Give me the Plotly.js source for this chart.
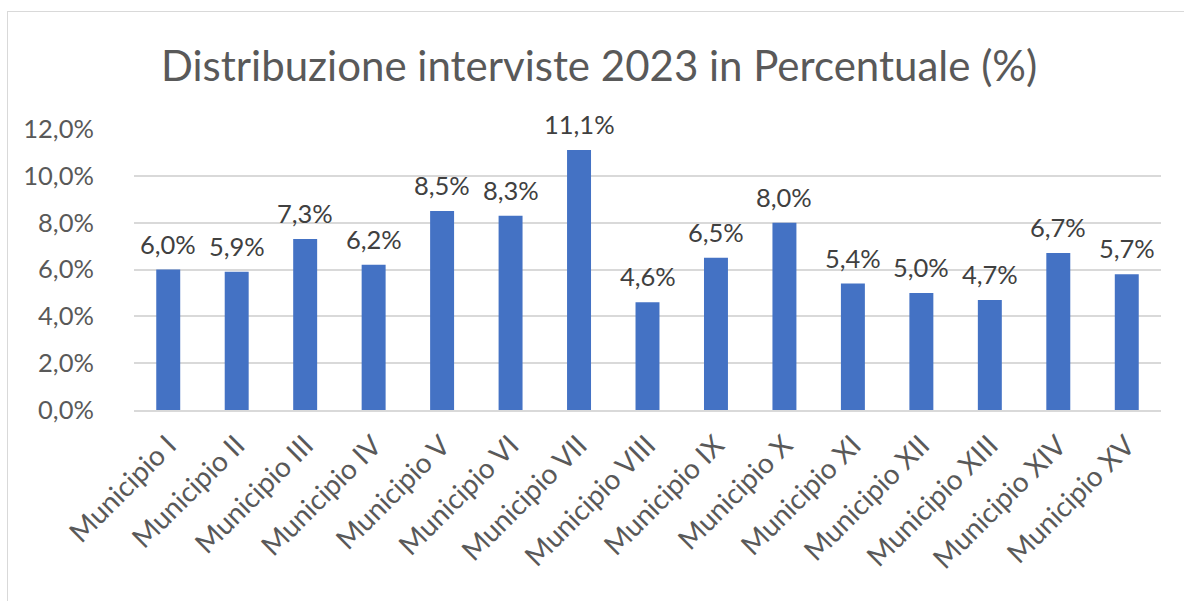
<!DOCTYPE html>
<html>
<head>
<meta charset="utf-8">
<script src="https://cdn.plot.ly/plotly-3.0.1.min.js"></script>
<style>
html,body{margin:0;padding:0;background:#fff;overflow:hidden;width:1184px;height:601px;}
#frame{position:absolute;left:7px;top:11px;width:1300px;height:700px;border:1.5px solid #d9d9d9;box-sizing:border-box;}
#chart{position:absolute;left:0;top:0;width:1184px;height:601px;}
</style>
</head>
<body>
<div id="frame"></div>
<div id="chart"></div>
<script>
const categories = ["Municipio I","Municipio II","Municipio III","Municipio IV","Municipio V","Municipio VI","Municipio VII","Municipio VIII","Municipio IX","Municipio X","Municipio XI","Municipio XII","Municipio XIII","Municipio XIV","Municipio XV"];
const values = [6.0, 5.9, 7.3, 6.2, 8.5, 8.3, 11.1, 4.6, 6.5, 8.0, 5.4, 5.0, 4.7, 6.7, 5.8];
const labels = ["6,0%","5,9%","7,3%","6,2%","8,5%","8,3%","11,1%","4,6%","6,5%","8,0%","5,4%","5,0%","4,7%","6,7%","5,7%"];
const yTicks = [0, 2, 4, 6, 8, 10, 12];
const yTickLabels = ["0,0%","2,0%","4,0%","6,0%","8,0%","10,0%","12,0%"];

const FONT = "Lato, 'Open Sans', sans-serif";

const annotations = categories.map((c, i) => ({
  x: c, y: values[i], xref: 'x', yref: 'y',
  text: labels[i], showarrow: false,
  xanchor: 'center', yanchor: 'bottom', yshift: 9,
  font: {family: FONT, size: 25.5, color: '#404040'}
}));

Plotly.newPlot('chart', [{
  type: 'bar',
  x: categories,
  y: values,
  marker: {color: '#4472C4'},
  hoverinfo: 'x+y'
}], {
  width: 1184, height: 601,
  paper_bgcolor: 'rgba(0,0,0,0)',
  plot_bgcolor: 'rgba(0,0,0,0)',
  margin: {l: 134, r: 23, t: 129, b: 191},
  bargap: 0.65,
  showlegend: false,
  annotations: annotations,
  title: {
    text: 'Distribuzione interviste 2023 in Percentuale (%)',
    font: {family: FONT, size: 42, color: '#595959'},
    x: 0.506, xanchor: 'center', y: 0.89, yanchor: 'middle'
  },
  xaxis: {
    tickangle: -45,
    tickfont: {family: FONT, size: 28, color: '#595959'},
    showgrid: false,
    showline: true, linecolor: '#d9d9d9', linewidth: 1.5,
    ticks: 'outside', ticklen: 6, tickcolor: 'rgba(0,0,0,0)'
  },
  yaxis: {
    range: [0, 12],
    tickvals: yTicks,
    ticktext: yTickLabels,
    tickfont: {family: FONT, size: 25.5, color: '#595959'},
    gridcolor: '#d9d9d9', gridwidth: 1.5,
    zeroline: false, showline: false,
    ticks: 'outside', ticklen: 34, tickcolor: 'rgba(0,0,0,0)'
  }
}, {displayModeBar: false});
</script>
</body>
</html>
